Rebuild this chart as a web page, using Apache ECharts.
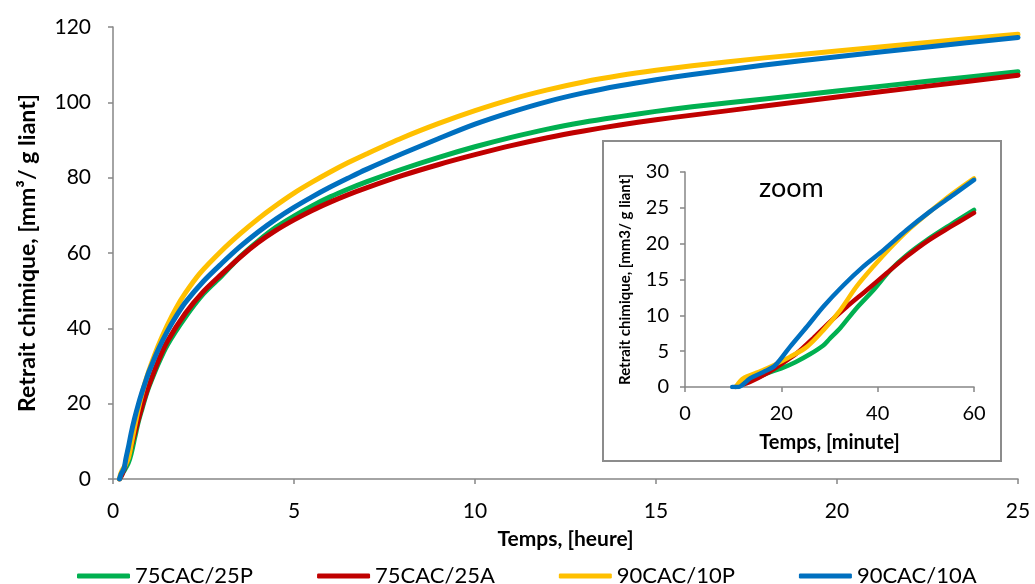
<!DOCTYPE html>
<html>
<head>
<meta charset="utf-8">
<script src="https://cdn.jsdelivr.net/npm/echarts@6/dist/echarts.min.js"></script>
<style>
html,body{margin:0;padding:0;background:#fff;}
#chart{width:1035px;height:584px;}
</style>
</head>
<body>
<div id="chart"></div>
<script>
// ---- data (main chart: time in hours) ----
const seriesNames = ['75CAC/25P', '75CAC/25A', '90CAC/10P', '90CAC/10A'];
const seriesColors = ['#00B050', '#C00000', '#FFC000', '#0070C0'];

const mainGreen = [[0.18,0],[0.25,1.3],[0.33,2.6],[0.42,4.2],[0.5,6.7],[0.6,11],[0.7,15.2],[0.8,18.6],[0.9,21.9],[1,24.7],[1.25,30.6],[1.5,35.6],[2,43],[2.5,49.2],[3,53.9],[3.5,58.9],[4,63.1],[4.5,66.8],[5,69.8],[5.5,72.5],[6,74.9],[6.5,77],[7,78.9],[8,82.3],[9,85.4],[10,88.2],[11,90.7],[12,92.9],[13,94.7],[14,96.2],[15,97.6],[16,98.8],[18,100.9],[20,103],[22.5,105.6],[25,108.1]];
const mainRed = [[0.18,0],[0.25,1.2],[0.33,3.3],[0.42,5.7],[0.5,8.6],[0.6,12.2],[0.7,15.8],[0.8,19.2],[0.9,22.3],[1,25.1],[1.25,31.3],[1.5,36.5],[2,44],[2.5,49.8],[3,54.4],[3.5,58.8],[4,62.7],[4.5,66],[5,68.8],[5.5,71.3],[6,73.5],[6.5,75.5],[7,77.3],[8,80.6],[9,83.5],[10,86.1],[11,88.5],[12,90.6],[13,92.4],[14,94],[15,95.4],[16,96.6],[18,99],[20,101.4],[22.5,104.3],[25,107.2]];
const mainYellow = [[0.18,0],[0.2,1],[0.25,2.2],[0.33,3.5],[0.42,5.4],[0.5,9],[0.6,14],[0.7,18.6],[0.8,22.6],[0.9,26],[1,29],[1.25,35.4],[1.5,40.8],[1.75,45.5],[2,49.4],[2.4,54.6],[3,60.6],[3.5,65],[4,69],[4.5,72.6],[5,75.9],[5.5,78.8],[6,81.5],[6.5,84],[7,86.3],[8,90.6],[9,94.4],[10,97.8],[11,100.8],[12,103.3],[13,105.4],[14,107.1],[15,108.5],[16,109.7],[18,111.8],[20,113.6],[22.5,115.9],[25,118.1]];
const mainBlue = [[0.18,0],[0.22,1.2],[0.27,2.1],[0.31,3],[0.36,5.6],[0.42,8.2],[0.5,12.1],[0.6,16.2],[0.7,19.8],[0.8,23],[0.9,25.9],[1,28.6],[1.25,34.4],[1.5,39.2],[1.75,43.3],[2,46.9],[2.5,52.5],[3,57.2],[3.5,61.6],[4,65.5],[4.5,69],[5,72.1],[5.5,74.9],[6,77.5],[6.5,79.9],[7,82.2],[8,86.4],[9,90.4],[10,94.2],[11,97.4],[12,100.2],[13,102.5],[14,104.4],[15,106],[16,107.4],[18,109.9],[20,112.1],[22.5,114.7],[25,117.2]];

// ---- data (inset: time in minutes) ----
const insetGreen = [[10.5,0],[12,0.4],[13.5,0.9],[15,1.3],[17,1.9],[20,2.6],[23,3.5],[26,4.6],[28.7,5.8],[30,6.7],[32.2,8.2],[35.6,11],[39.1,13.5],[42.6,16.3],[46,18.4],[50.2,20.5],[55,22.6],[60,24.7]];
const insetRed = [[10.5,0],[13.5,0.7],[17,1.9],[20,3.2],[23.2,4.7],[26.6,6.8],[30.1,9.1],[33.6,11.2],[37.7,13.5],[41.9,15.9],[46,18.2],[50.2,20.3],[55,22.3],[60,24.3]];
const insetYellow = [[10.5,0],[12.1,1.2],[14.9,2],[18.3,3],[21.8,4.2],[25.3,5.6],[28.7,7.9],[32.2,10.7],[35.6,14],[39.1,16.8],[42.6,19.4],[46,21.7],[50,24],[55,26.7],[60,29.1]];
const insetBlue = [[9.8,0],[11.1,0],[13.5,1.2],[16.3,2.1],[18.7,3],[21.8,5.6],[25.3,8.4],[28.7,11.2],[32.9,14.2],[37,16.8],[41.2,19.1],[46,21.9],[50.9,24.5],[55.7,26.8],[60,28.9]];

const mainData = [mainGreen, mainRed, mainYellow, mainBlue];
const insetData = [insetGreen, insetRed, insetYellow, insetBlue];

// ---- styling ----
const FONT = 'Lato';
const AXIS_GREY = '#868686';

function axisCommon(labelSize, margin) {
  return {
    axisLine: { show: true, onZero: false, lineStyle: { color: AXIS_GREY, width: 1.5 } },
    axisTick: { show: true, inside: false, length: 5, lineStyle: { color: AXIS_GREY, width: 1.5 } },
    axisLabel: { color: '#000', fontFamily: FONT, fontSize: labelSize, margin: margin },
    splitLine: { show: false }
  };
}

const series = [];
mainData.forEach((d, i) => {
  series.push({
    name: seriesNames[i], type: 'line', xAxisIndex: 0, yAxisIndex: 0,
    data: d, showSymbol: false, symbol: 'none', smooth: 0.3,
    lineStyle: { color: seriesColors[i], width: 5, cap: 'round', join: 'round' },
    itemStyle: { color: seriesColors[i] }, z: 2 + i
  });
});
insetData.forEach((d, i) => {
  series.push({
    name: seriesNames[i], type: 'line', xAxisIndex: 1, yAxisIndex: 1,
    data: d, showSymbol: false, symbol: 'none', smooth: 0.3,
    lineStyle: { color: seriesColors[i], width: 4.5, cap: 'round', join: 'round' },
    itemStyle: { color: seriesColors[i] }, z: 12 + i
  });
});

const chart = echarts.init(document.getElementById('chart'), null, { renderer: 'canvas' });
chart.setOption({
  animation: false,
  backgroundColor: '#fff',
  textStyle: { fontFamily: FONT },
  grid: [
    { left: 113, top: 27, width: 905, height: 452 },
    { left: 685, top: 172, width: 289, height: 215, z: 10 }
  ],
  xAxis: [
    Object.assign(axisCommon(21, 22), {
      type: 'value', gridIndex: 0, min: 0, max: 25, interval: 5,
      name: 'Temps, [heure]', nameLocation: 'middle', nameGap: 50,
      nameTextStyle: { color: '#000', fontFamily: FONT, fontSize: 21, fontWeight: 'bold' }
    }),
    Object.assign(axisCommon(20, 17), {
      type: 'value', gridIndex: 1, min: 0, max: 60, interval: 20, z: 10,
      name: 'Temps, [minute]', nameLocation: 'middle', nameGap: 46,
      nameTextStyle: { color: '#000', fontFamily: FONT, fontSize: 20, fontWeight: 'bold' }
    })
  ],
  yAxis: [
    Object.assign(axisCommon(21, 22), {
      type: 'value', gridIndex: 0, min: 0, max: 120, interval: 20,
      name: 'Retrait chimique, [mm³/ g liant]', nameLocation: 'middle', nameGap: 74,
      nameTextStyle: { color: '#000', fontFamily: FONT, fontSize: 23, fontWeight: 'bold' }
    }),
    Object.assign(axisCommon(20, 16), {
      type: 'value', gridIndex: 1, min: 0, max: 30, interval: 5, z: 10,
      name: 'Retrait chimique, [mm3/ g liant]', nameLocation: 'middle', nameGap: 52,
      nameTextStyle: { color: '#000', fontFamily: FONT, fontSize: 15, fontWeight: 'bold' }
    })
  ],
  legend: {
    data: seriesNames,
    left: 72, top: 560,
    itemWidth: 53, itemHeight: 5, itemGap: 64,
    icon: 'roundRect',
    textStyle: { color: '#000', fontFamily: FONT, fontSize: 22 }
  },
  graphic: [
    { type: 'rect', z: 5, shape: { x: 603, y: 141, width: 398, height: 320 },
      style: { fill: '#fff', stroke: '#8c8c8c', lineWidth: 2 } },
    { type: 'text', z: 20, left: 759, top: 175,
      style: { text: 'zoom', fill: '#000', font: '27px Lato' } }
  ],
  series: series
});
</script>
</body>
</html>
